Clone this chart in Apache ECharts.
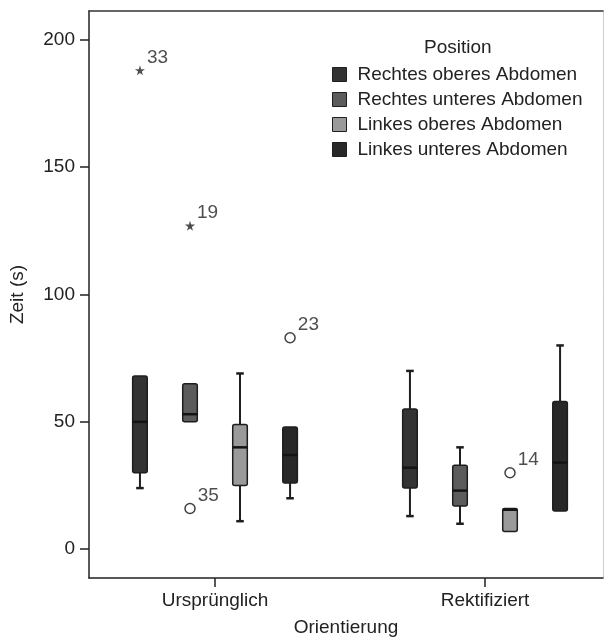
<!DOCTYPE html>
<html><head><meta charset="utf-8">
<script src="https://cdn.jsdelivr.net/npm/echarts@6/dist/echarts.min.js"></script>
<style>html,body{margin:0;padding:0;background:#fff}#c{width:606px;height:642px}</style>
</head><body><div id="c"></div>
<script>
// ---- data ----
const categories = ['Ursprünglich', 'Rektifiziert'];
const seriesNames = ['Rechtes oberes Abdomen', 'Rechtes unteres Abdomen', 'Linkes oberes Abdomen', 'Linkes unteres Abdomen'];
// per category: [lower whisker, Q1, median, Q3, upper whisker]
const rechtesOberes  = [[24, 30, 50, 68, 68], [13, 24, 32, 55, 70]];
const rechtesUnteres = [[50, 50, 53, 65, 65], [10, 17, 23, 33, 40]];
const linkesOberes   = [[11, 25, 40, 49, 69], [7, 7, 15.5, 16, 16]];
const linkesUnteres  = [[20, 26, 37, 48, 48], [15, 15, 34, 58, 80]];
const boxData = [rechtesOberes, rechtesUnteres, linkesOberes, linkesUnteres];
// outliers
const outlierLabel    = ['33', '19', '35', '23', '14'];
const outlierValue    = [188, 127, 16, 83, 30];
const outlierCategory = [0, 0, 0, 0, 1];
const outlierSeries   = [0, 1, 1, 3, 2];
const outlierExtreme  = [true, true, false, false, false];
const yTicks = [0, 50, 100, 150, 200];

// ---- styling / layout ----
const fills = ['#333333', '#5c5c5c', '#9a9a9a', '#282828'];
const offsets = [-0.278, -0.0926, 0.0926, 0.278];
const BOX_W = 0.054, CAP_W = 0.028;
const TXT = '#222';
const FONT = 'Liberation Sans, Arial, sans-serif';

function makeRender(si) {
  return function (params, api) {
    const x = api.value(0) + offsets[si];
    const p = i => api.coord([x, api.value(i)]);
    const lo = p(1), q1 = p(2), med = p(3), q3 = p(4), hi = p(5);
    const half = api.size([BOX_W, 0])[0] / 2;
    const cap = api.size([CAP_W, 0])[0] / 2;
    const cx = lo[0];
    const line = { stroke: '#1e1e1e', lineWidth: 2 };
    const ch = [];
    if (hi[1] < q3[1] - 0.5) {
      ch.push({ type: 'line', shape: { x1: cx, y1: hi[1], x2: cx, y2: q3[1] }, style: line });
      ch.push({ type: 'line', shape: { x1: cx - cap, y1: hi[1], x2: cx + cap, y2: hi[1] }, style: { stroke: '#1e1e1e', lineWidth: 2.5 } });
    }
    if (lo[1] > q1[1] + 0.5) {
      ch.push({ type: 'line', shape: { x1: cx, y1: q1[1], x2: cx, y2: lo[1] }, style: line });
      ch.push({ type: 'line', shape: { x1: cx - cap, y1: lo[1], x2: cx + cap, y2: lo[1] }, style: { stroke: '#1e1e1e', lineWidth: 2.5 } });
    }
    ch.push({ type: 'rect', shape: { x: cx - half, y: q3[1], width: half * 2, height: q1[1] - q3[1], r: 2 },
      style: { fill: fills[si], stroke: '#1e1e1e', lineWidth: 1.5 } });
    ch.push({ type: 'line', shape: { x1: cx - half, y1: med[1], x2: cx + half, y2: med[1] }, style: { stroke: '#141414', lineWidth: 2.5 } });
    return { type: 'group', children: ch };
  };
}

const series = boxData.map((arr, si) => ({
  name: seriesNames[si],
  type: 'custom',
  renderItem: makeRender(si),
  itemStyle: { color: fills[si], borderColor: '#1e1e1e', borderWidth: 1 },
  encode: { x: 0, y: [1, 2, 3, 4, 5] },
  data: arr.map((v, ci) => [ci + 1].concat(v)),
  z: 2
}));

function outlierData(extreme) {
  const out = [];
  for (let i = 0; i < outlierValue.length; i++) {
    if (outlierExtreme[i] === extreme) {
      out.push([outlierCategory[i] + 1 + offsets[outlierSeries[i]], outlierValue[i], outlierLabel[i]]);
    }
  }
  return out;
}
const outLabel = { show: true, position: 'right', distance: 2, offset: [0, -13], formatter: p => p.data[2], fontSize: 19, color: TXT, fontFamily: FONT };
series.push({
  name: 'extreme', type: 'scatter', z: 5,
  symbol: 'path://M50,0 L61,35 L98,35 L68,57 L79,91 L50,70 L21,91 L32,57 L2,35 L39,35 Z',
  symbolSize: 10, itemStyle: { color: '#222' }, label: outLabel, data: outlierData(true)
});
series.push({
  name: 'outlier', type: 'scatter', z: 5, symbol: 'circle', symbolSize: 10,
  itemStyle: { color: '#fff', borderColor: '#111', borderWidth: 1.5 }, label: outLabel, data: outlierData(false)
});

const XMIN = 0.5333, XMAX = 2.437, YMIN = -11.3, YMAX = 211.3;
const chart = echarts.init(document.getElementById('c'), null, { renderer: 'canvas' });
chart.setOption({
  backgroundColor: '#fff',
  animation: false,
  textStyle: { fontFamily: FONT },
  title: { text: 'Position', left: 424, top: 38, padding: 0, textStyle: { fontSize: 19, fontWeight: 'normal', color: TXT, fontFamily: FONT } },
  legend: {
    data: seriesNames, orient: 'vertical', left: 332, top: 65, padding: 0,
    icon: 'rect', itemWidth: 14, itemHeight: 14, itemGap: 6,
    itemStyle: { borderColor: '#1e1e1e', borderWidth: 1 },
    textStyle: { fontSize: 19, color: TXT, fontFamily: FONT, lineHeight: 19, padding: [0, 0, 0, 6] },
    selectedMode: false
  },
  grid: { left: 89, right: 3, top: 11, bottom: 59, containLabel: false },
  xAxis: [{
    type: 'value', min: XMIN, max: XMAX, position: 'bottom',
    axisLine: { show: true, onZero: false, lineStyle: { color: '#222', width: 1.5 } },
    axisTick: { show: true, customValues: [1, 2], length: 9, lineStyle: { color: '#222', width: 1.5 } },
    axisLabel: { customValues: [1, 2], formatter: v => categories[Math.round(v) - 1], fontSize: 19, color: TXT, margin: 13, fontFamily: FONT },
    splitLine: { show: false },
    name: 'Orientierung', nameLocation: 'middle', nameGap: 40,
    nameTextStyle: { fontSize: 19, color: TXT, fontFamily: FONT }
  }, {
    type: 'value', min: XMIN, max: XMAX, position: 'top',
    axisLine: { show: true, onZero: false, lineStyle: { color: '#333', width: 1.5 } },
    axisTick: { show: false }, axisLabel: { show: false }, splitLine: { show: false }
  }],
  yAxis: [{
    type: 'value', min: YMIN, max: YMAX, position: 'left',
    axisLine: { show: true, onZero: false, lineStyle: { color: '#222', width: 1.5 } },
    axisTick: { show: true, customValues: yTicks, length: 9, lineStyle: { color: '#222', width: 1.5 } },
    axisLabel: { customValues: yTicks, fontSize: 19, color: TXT, margin: 14, fontFamily: FONT },
    splitLine: { show: false },
    name: 'Zeit (s)', nameLocation: 'middle', nameGap: 62,
    nameTextStyle: { fontSize: 19, color: TXT, fontFamily: FONT }
  }, {
    type: 'value', min: YMIN, max: YMAX, position: 'right',
    axisLine: { show: true, onZero: false, lineStyle: { color: '#cfcfcf', width: 1 } },
    axisTick: { show: false }, axisLabel: { show: false }, splitLine: { show: false }
  }],
  series: series
});
</script>
</body></html>
